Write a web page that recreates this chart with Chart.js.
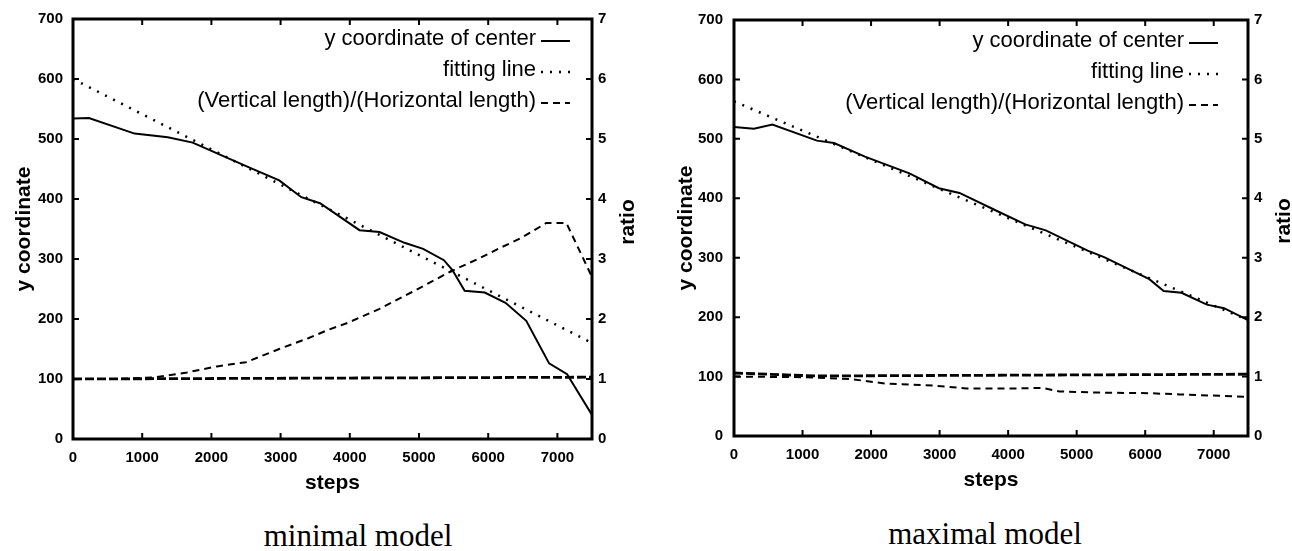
<!DOCTYPE html>
<html>
<head>
<meta charset="utf-8">
<script src="https://cdn.jsdelivr.net/npm/chart.js@4.4.1/dist/chart.umd.min.js"></script>
<style>
  body { margin: 0; background: #fff; width: 1292px; height: 551px; overflow: hidden; position: relative; }
  .box { position: absolute; top: 0; width: 646px; height: 496px; }
  .cap { position: absolute; font-family: "Liberation Serif", serif; font-size: 31px; line-height: 31px; white-space: nowrap; transform: translateX(-50%); color: #000; }
</style>
</head>
<body>
<div class="box" style="left:0"><canvas id="minChart" width="646" height="496"></canvas></div>
<div class="box" style="left:646px"><canvas id="maxChart" width="646" height="496"></canvas></div>
<div class="cap" style="left:358px; top:520px">minimal model</div>
<div class="cap" style="left:985px; top:518px">maximal model</div>
<script>
// 凡例の文字と横軸の目盛り
const legendLabels = ["y coordinate of center", "fitting line", "(Vertical length)/(Horizontal length)"];
const stepTicks = [0, 1000, 2000, 3000, 4000, 5000, 6000, 7000];

// minimal model
const minCenterSteps = [0, 230, 890, 1370, 1730, 2140, 2560, 2980, 3300, 3570, 4140, 4430, 4790, 5060, 5360, 5480, 5660, 5950, 6250, 6550, 6880, 7140, 7500];
const minCenterY = [534, 535, 509, 503, 494, 473, 452, 431, 403, 393, 348, 345, 327, 317, 298, 282, 247, 244, 227, 197, 126, 108, 40];
const minFitSteps = [0, 7500];
const minFitY = [600, 160];
const minRatioSteps = [0, 600, 1200, 1650, 2080, 2500, 2980, 3400, 3690, 3980, 4430, 4900, 5470, 5850, 6200, 6460, 6840, 7130, 7500];
const minRatio = [1.00, 1.00, 1.03, 1.11, 1.21, 1.28, 1.50, 1.68, 1.82, 1.94, 2.17, 2.45, 2.80, 3.00, 3.20, 3.34, 3.60, 3.60, 2.70];
const minBaseSteps = [0, 7500];
const minBase = [1.00, 1.03];

// maximal model
const maxCenterSteps = [0, 290, 560, 1210, 1460, 1910, 2560, 2990, 3290, 3830, 4250, 4550, 5160, 5400, 6060, 6270, 6530, 6900, 7150, 7500];
const maxCenterY = [520, 517, 524, 497, 493, 470, 442, 417, 409, 379, 356, 346, 312, 301, 264, 244, 241, 221, 215, 195];
const maxFitSteps = [0, 7500];
const maxFitY = [563, 195];
const maxRatioSteps = [0, 1000, 1690, 2230, 2900, 3390, 4120, 4500, 4750, 5330, 6060, 6500, 7500];
const maxRatio = [1.00, 0.99, 0.96, 0.88, 0.85, 0.80, 0.80, 0.81, 0.75, 0.73, 0.72, 0.70, 0.66];
const maxBaseSteps = [0, 1200, 7500];
const maxBase = [1.06, 1.01, 1.04];

const FONT = '"Liberation Sans", Arial, sans-serif';

function pts(xs, ys) {
  return xs.map((x, i) => ({ x: x, y: ys[i] }));
}

// 枠・内向きの目盛り・右軸タイトル・凡例
const framePlugin = {
  id: "frame",
  afterDraw(chart, args, opts) {
    const ctx = chart.ctx, a = chart.chartArea, sc = chart.scales;
    const tl = 6;
    ctx.save();
    ctx.strokeStyle = "#000";
    ctx.fillStyle = "#000";
    ctx.lineWidth = 2;
    ctx.beginPath();
    sc.x.ticks.forEach(t => {
      const px = sc.x.getPixelForValue(t.value);
      ctx.moveTo(px, a.bottom); ctx.lineTo(px, a.bottom - tl);
      ctx.moveTo(px, a.top); ctx.lineTo(px, a.top + tl);
    });
    sc.y.ticks.forEach(t => {
      const py = sc.y.getPixelForValue(t.value);
      ctx.moveTo(a.left, py); ctx.lineTo(a.left + tl, py);
    });
    sc.y2.ticks.forEach(t => {
      const py = sc.y2.getPixelForValue(t.value);
      ctx.moveTo(a.right, py); ctx.lineTo(a.right - tl, py);
    });
    ctx.stroke();
    ctx.lineWidth = 3;
    ctx.strokeRect(a.left, a.top, a.right - a.left, a.bottom - a.top);

    // 凡例（右寄せ、線見本は右側）
    const xr = a.right - opts.legendInset;
    const sw = 29;
    ctx.font = "22px " + FONT;
    ctx.textAlign = "right";
    ctx.textBaseline = "middle";
    chart.data.datasets.slice(0, 3).forEach((ds, i) => {
      const y = a.top + opts.legendTop + i * opts.legendGap;
      ctx.fillText(ds.label, xr - sw - 5, y);
      ctx.save();
      ctx.lineWidth = ds.borderWidth;
      ctx.setLineDash(ds.borderDash || []);
      ctx.beginPath();
      ctx.moveTo(xr - sw, y + 2);
      ctx.lineTo(xr, y + 2);
      ctx.stroke();
      ctx.restore();
    });

    ctx.translate(opts.ratioX, (a.top + a.bottom) / 2 - 7);
    ctx.rotate(-Math.PI / 2);
    ctx.font = "bold 21px " + FONT;
    ctx.textAlign = "center";
    ctx.fillText("ratio", 0, 0);
    ctx.restore();
  }
};

function makeChart(id, center, fit, ratio, base, g) {
  let tickFont = { family: FONT, size: 15, weight: "bold" };
  let titleFont = { family: FONT, size: 21, weight: "bold" };
  return new Chart(document.getElementById(id), {
    type: "line",
    data: {
      datasets: [
        { label: legendLabels[0], data: center, yAxisID: "y", borderColor: "#000", borderWidth: 2 },
        { label: legendLabels[1], data: fit, yAxisID: "y", borderColor: "#000", borderWidth: 2.5, borderDash: [2, 7] },
        { label: legendLabels[2], data: ratio, yAxisID: "y2", borderColor: "#000", borderWidth: 2, borderDash: [7, 5] },
        { label: "ratio 1", data: base, yAxisID: "y2", borderColor: "#000", borderWidth: 2.8, borderDash: [9, 3] },
      ],
    },
    options: {
      responsive: false,
      animation: false,
      events: [],
      layout: { padding: { top: g.top, left: 0, right: 0, bottom: 0 } },
      elements: { point: { radius: 0 }, line: { tension: 0, fill: false } },
      scales: {
        x: {
          type: "linear", position: "bottom", min: 0, max: 7500,
          ticks: { maxRotation: 0, autoSkip: false, color: "#000", padding: 10, font: tickFont, callback: v => String(v) },
          afterBuildTicks: s => { s.ticks = stepTicks.map(v => ({ value: v })); },
          grid: { display: false, drawTicks: false },
          border: { display: false },
          title: { display: true, text: "steps", color: "#000", font: titleFont, padding: { top: 0, bottom: g.stepsPad } },
          afterFit: s => { s.height = g.xHeight; },
        },
        y: {
          position: "left", min: 0, max: 700,
          ticks: { stepSize: 100, color: "#000", padding: g.yTickPad, font: tickFont },
          grid: { display: false, drawTicks: false },
          border: { display: false },
          title: { display: true, text: "y coordinate", color: "#000", font: titleFont, padding: { top: g.yTitlePad, bottom: 0 } },
          afterFit: s => { s.width = g.yWidth; },
        },
        y2: {
          position: "right", min: 0, max: 7,
          ticks: { stepSize: 1, color: "#000", padding: 6, font: tickFont },
          grid: { display: false, drawTicks: false },
          border: { display: false },
          afterFit: s => { s.width = g.y2Width; },
        },
      },
      plugins: {
        legend: { display: false },
        tooltip: { enabled: false },
        frame: { ratioX: g.ratioX, legendInset: g.legendInset, legendTop: g.legendTop, legendGap: 31 },
      },
    },
    plugins: [framePlugin],
  });
}

makeChart("minChart",
  pts(minCenterSteps, minCenterY), pts(minFitSteps, minFitY),
  pts(minRatioSteps, minRatio), pts(minBaseSteps, minBase),
  { top: 17, xHeight: 57, yWidth: 73, y2Width: 54, yTitlePad: 12, yTickPad: 10, stepsPad: 0, ratioX: 628, legendInset: 22, legendTop: 20 });

makeChart("maxChart",
  pts(maxCenterSteps, maxCenterY), pts(maxFitSteps, maxFitY),
  pts(maxRatioSteps, maxRatio), pts(maxBaseSteps, maxBase),
  { top: 15, xHeight: 60, yWidth: 88, y2Width: 44, yTitlePad: 28, yTickPad: 11, stepsPad: 3, ratioX: 638, legendInset: 30, legendTop: 21 });
</script>
</body>
</html>
